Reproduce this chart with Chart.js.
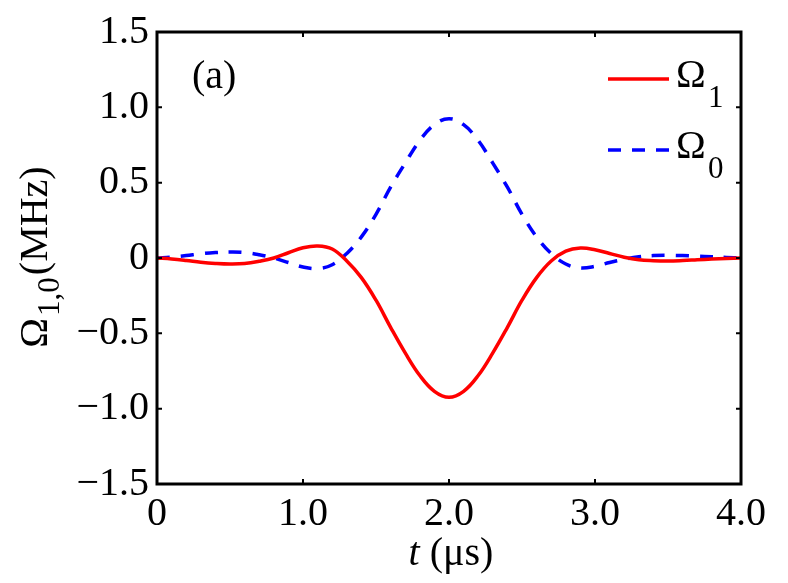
<!DOCTYPE html>
<html>
<head>
<meta charset="utf-8">
<script src="https://cdn.jsdelivr.net/npm/chart.js@4.4.1/dist/chart.umd.min.js"></script>
<style>
  html, body { margin: 0; padding: 0; background: #fff; }
  #wrap { width: 788px; height: 583px; }
</style>
</head>
<body>
<div id="wrap"><canvas id="myChart" width="788" height="583"></canvas></div>
<script>
// time axis (µs)
const tValues = [
  0, 0.1, 0.2, 0.3, 0.4, 0.5, 0.6, 0.7, 0.8, 0.9,
  1.0, 1.1, 1.2, 1.3, 1.4, 1.5, 1.6, 1.7, 1.8, 1.9,
  2.0, 2.1, 2.2, 2.3, 2.4, 2.5, 2.6, 2.7, 2.8, 2.9,
  3.0, 3.1, 3.2, 3.3, 3.4, 3.5, 3.6, 3.7, 3.8, 3.9, 4.0,
];

// Omega_1 (red, solid)
const omega1 = [
  0, -0.006, -0.016, -0.028, -0.036, -0.04, -0.037, -0.022, 0.0, 0.035,
  0.068, 0.08, 0.06, -0.02, -0.13, -0.28, -0.46, -0.63, -0.78, -0.885,
  -0.925, -0.885, -0.78, -0.63, -0.46, -0.28, -0.13, -0.02, 0.045, 0.066,
  0.055, 0.03, 0.005, -0.012, -0.018, -0.02, -0.017, -0.012, -0.007, -0.003, 0,
];

// Omega_0 (blue, dashed)
const omega0 = [
  0, 0.006, 0.016, 0.028, 0.036, 0.04, 0.037, 0.022, 0.0, -0.03,
  -0.06, -0.07, -0.045, 0.03, 0.14, 0.29, 0.47, 0.63, 0.78, 0.885,
  0.925, 0.885, 0.78, 0.63, 0.47, 0.29, 0.14, 0.03, -0.04, -0.066,
  -0.055, -0.03, -0.008, 0.008, 0.016, 0.018, 0.016, 0.012, 0.008, 0.004, 0,
];

const xTicks = [0, 1, 2, 3, 4];
const yTicks = [-1.5, -1.0, -0.5, 0, 0.5, 1.0, 1.5];

const serif = "'Liberation Serif', 'DejaVu Serif', serif";
const big = "40px " + serif;
const small = "31px " + serif;

function fmt(v) {
  if (v === 0) return "0";
  return v.toFixed(1).replace("-", "\u2212");
}

// box, inward ticks, axis titles, legend and panel label
const decor = {
  id: "decor",
  afterDraw(chart) {
    const c = chart.ctx;
    const a = chart.chartArea;
    const xs = chart.scales.x;
    const ys = chart.scales.y;
    const tl = 5;
    c.save();
    c.strokeStyle = "#000";
    c.lineWidth = 2;
    xTicks.forEach((v) => {
      const px = xs.getPixelForValue(v);
      c.beginPath();
      c.moveTo(px, a.bottom); c.lineTo(px, a.bottom - tl);
      c.moveTo(px, a.top); c.lineTo(px, a.top + tl);
      c.stroke();
    });
    yTicks.forEach((v) => {
      const py = ys.getPixelForValue(v);
      c.beginPath();
      c.moveTo(a.left, py); c.lineTo(a.left + tl, py);
      c.moveTo(a.right, py); c.lineTo(a.right - tl, py);
      c.stroke();
    });
    c.lineWidth = 3;
    c.strokeRect(a.left, a.top, a.right - a.left, a.bottom - a.top);

    c.fillStyle = "#000";
    c.textBaseline = "alphabetic";
    c.textAlign = "left";

    // panel label
    c.font = big;
    c.fillText("(a)", 192, 88);

    // x title
    c.font = "italic " + big;
    const wt = c.measureText("t").width;
    c.font = big;
    const wr = c.measureText(" (\u03bcs)").width;
    const x0 = 451 - (wt + wr) / 2;
    c.font = "italic " + big;
    c.fillText("t", x0, 565);
    c.font = big;
    c.fillText(" (\u03bcs)", x0 + wt, 565);

    // y title, rotated
    c.save();
    c.translate(47, 257);
    c.rotate(-Math.PI / 2);
    c.font = big;
    const wO = c.measureText("\u03a9").width;
    c.font = small;
    const wS = c.measureText("1,0").width;
    c.font = big;
    const wM = c.measureText("(MHz)").width;
    const total = wO + 2 + wS + 2 + wM;
    let lx = -total / 2;
    c.fillText("\u03a9", lx, 0);
    lx += wO + 2;
    c.font = small;
    c.fillText("1,0", lx, 12);
    lx += wS + 2;
    c.font = big;
    c.fillText("(MHz)", lx, 0);
    c.restore();

    // legend
    const items = [
      { color: "#ff0000", dash: [], sub: "1", y: 79 },
      { color: "#0000ff", dash: [13, 11], sub: "0", y: 150 },
    ];
    items.forEach((it) => {
      c.save();
      c.strokeStyle = it.color;
      c.lineWidth = 3.5;
      c.setLineDash(it.dash);
      c.beginPath();
      c.moveTo(608, it.y);
      c.lineTo(669, it.y);
      c.stroke();
      c.restore();
      c.font = big;
      c.fillText("\u03a9", 676, it.y + 8);
      c.font = small;
      c.fillText(it.sub, 708, it.y + 28);
    });
    c.restore();
  },
};

const ctx = document.getElementById("myChart").getContext("2d");

new Chart(ctx, {
  type: "line",
  data: {
    datasets: [
      {
        label: "\u03a91",
        data: tValues.map((t, i) => ({ x: t, y: omega1[i] })),
        borderColor: "#ff0000",
        borderWidth: 3.5,
        pointRadius: 0,
        tension: 0.4,
        fill: false,
      },
      {
        label: "\u03a90",
        data: tValues.map((t, i) => ({ x: t, y: omega0[i] })),
        borderColor: "#0000ff",
        borderWidth: 3.5,
        borderDash: [13, 11],
        pointRadius: 0,
        tension: 0.4,
        fill: false,
      },
    ],
  },
  options: {
    responsive: false,
    animation: false,
    layout: { padding: { top: 30, right: 47, bottom: 0, left: 0 } },
    plugins: {
      legend: { display: false },
      tooltip: { enabled: false },
    },
    scales: {
      x: {
        type: "linear",
        min: 0,
        max: 4,
        afterFit: (s) => { s.height = 99; },
        afterBuildTicks: (s) => { s.ticks = xTicks.map((v) => ({ value: v })); },
        grid: { display: false, drawTicks: false, tickLength: 0 },
        border: { display: false },
        ticks: {
          padding: 6,
          color: "#000",
          maxRotation: 0,
          font: { family: serif, size: 40 },
          callback: (v) => fmt(v),
        },
      },
      y: {
        min: -1.5,
        max: 1.5,
        afterFit: (s) => { s.width = 157; },
        afterBuildTicks: (s) => { s.ticks = yTicks.map((v) => ({ value: v })); },
        grid: { display: false, drawTicks: false, tickLength: 0 },
        border: { display: false },
        ticks: {
          padding: 8,
          color: "#000",
          font: { family: serif, size: 40 },
          callback: (v) => fmt(v),
        },
      },
    },
  },
  plugins: [decor],
});
</script>
</body>
</html>
